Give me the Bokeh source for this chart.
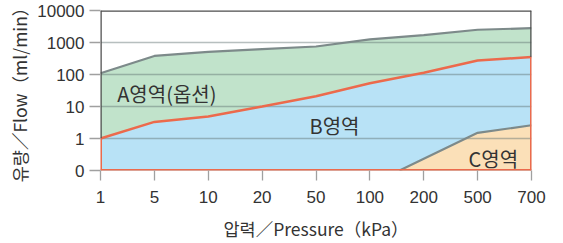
import numpy as np
from bokeh.plotting import figure
from bokeh.models import FixedTicker, Range1d
from bokeh.core.properties import value
from bokeh.embed import file_html
from bokeh.resources import INLINE

# ---- data ----
pressure_labels = ["1", "5", "10", "20", "50", "100", "200", "500", "700"]
flow_ticks = [0, 1, 10, 100, 1000, 10000]
flow_tick_labels = ["0", "1", "10", "100", "1000", "10000"]

# upper limit of region A (grey line), ml/min
a_upper = [110, 380, 510, 620, 750, 1250, 1700, 2500, 2800]
# boundary between region A and B (orange line), ml/min
ab_boundary = [1, 3.3, 4.9, 10, 21, 53, 114, 275, 350]
# region C upper boundary: position on pressure axis (category index) and flow
c_pos = [5.55, 7, 8]
c_flow = [0, 1.5, 2.6]

region_labels = ["A영역(옵션)", "B영역", "C영역"]
region_label_pos = [0.31, 3.88, 6.83]
region_label_flow = [26, 2.5, 0.24]

FLOOR = -1.0  # position of the "0" row (one decade below 1)


def ypos(v):
    v = np.asarray(v, dtype=float)
    out = np.full(v.shape, FLOOR)
    m = v > 0
    out[m] = np.log10(v[m])
    return out


xi = np.arange(len(pressure_labels), dtype=float)
y_top = ypos([flow_ticks[-1]])[0]

GREEN = "#c1e3cb"
BLUE = "#b8e2f6"
TAN = "#fbe0b8"
GREY = "#7d8a8a"
ORANGE = "#ec6a4c"
FRAME = "#4d4d4d"
TEXT = "#333333"

p = figure(width=553, height=243, output_backend="svg", toolbar_location=None,
           x_range=Range1d(xi[0], xi[-1]), y_range=Range1d(FLOOR, y_top),
           min_border_left=100, min_border_right=22, min_border_top=10,
           min_border_bottom=72)
p.outline_line_color = None
p.xgrid.visible = False
p.ygrid.visible = False
p.background_fill_color = "white"
p.border_fill_color = "white"

# fills
p.varea(x=xi, y1=ypos(ab_boundary), y2=ypos(a_upper), fill_color=GREEN)
p.varea(x=xi, y1=np.full(len(xi), FLOOR), y2=ypos(ab_boundary), fill_color=BLUE)
p.varea(x=c_pos, y1=np.full(len(c_pos), FLOOR), y2=ypos(c_flow), fill_color=TAN)

# grid lines
p.hspan(y=ypos(flow_ticks[:-1]), line_color="#5f7070", line_alpha=0.45, line_width=1.3)

# region outlines
p.line(x=xi, y=ypos(a_upper), line_color=GREY, line_width=2.2)
p.line(x=c_pos, y=ypos(c_flow), line_color=GREY, line_width=2.2)
p.line(x=xi, y=ypos(ab_boundary), line_color=ORANGE, line_width=2.5)

# frame (top, left, right)
p.hspan(y=[y_top], line_color=FRAME, line_width=2.5)
p.segment(x0=[xi[0], xi[-1]], y0=[ypos([ab_boundary[0]])[0], ypos([ab_boundary[-1]])[0]],
          x1=[xi[0], xi[-1]], y1=[y_top, y_top], line_color=FRAME, line_width=2.5)

# orange outline of region B/C (left, bottom, right)
p.segment(x0=[xi[0], xi[0], xi[-1]],
          y0=[ypos([ab_boundary[0]])[0], FLOOR, FLOOR],
          x1=[xi[0], xi[-1], xi[-1]],
          y1=[FLOOR, FLOOR, ypos([ab_boundary[-1]])[0]],
          line_color=ORANGE, line_width=3)

# region labels
p.text(x=region_label_pos, y=ypos(region_label_flow), text=region_labels,
       text_font=value("Noto Sans CJK KR"), text_font_size="20px",
       text_color=TEXT, text_baseline="middle", text_align="left")

# axes
p.xaxis.ticker = FixedTicker(ticks=list(xi))
p.xaxis.major_label_overrides = {int(i): s for i, s in zip(xi, pressure_labels)}
yt = ypos(flow_ticks)
p.yaxis.ticker = FixedTicker(ticks=list(yt))
p.yaxis.major_label_overrides = {int(round(t)): s for t, s in zip(yt, flow_tick_labels)}

for ax in (p.xaxis[0], p.yaxis[0]):
    ax.axis_line_color = None
    ax.minor_tick_line_color = None
    ax.major_tick_in = 0
    ax.major_tick_line_color = "#a0a0a0"
    ax.major_tick_line_width = 1.3
    ax.major_label_text_font = "Liberation Sans"
    ax.major_label_text_font_size = "17px"
    ax.major_label_text_color = TEXT
    ax.axis_label_text_font = "Noto Sans CJK KR"
    ax.axis_label_text_font_size = "17.5px"
    ax.axis_label_text_font_style = "normal"
    ax.axis_label_text_color = TEXT

p.xaxis.major_tick_out = 10
p.xaxis.major_label_standoff = 10
p.xaxis.axis_label = "압력／Pressure（kPa）"
p.xaxis.axis_label_standoff = 10

p.yaxis.major_tick_out = 11
p.yaxis.major_label_standoff = 5
p.yaxis.axis_label = "유량／Flow（ml/min）"
p.yaxis.axis_label_standoff = 2

open("out.html", "w").write(file_html(p, INLINE))
